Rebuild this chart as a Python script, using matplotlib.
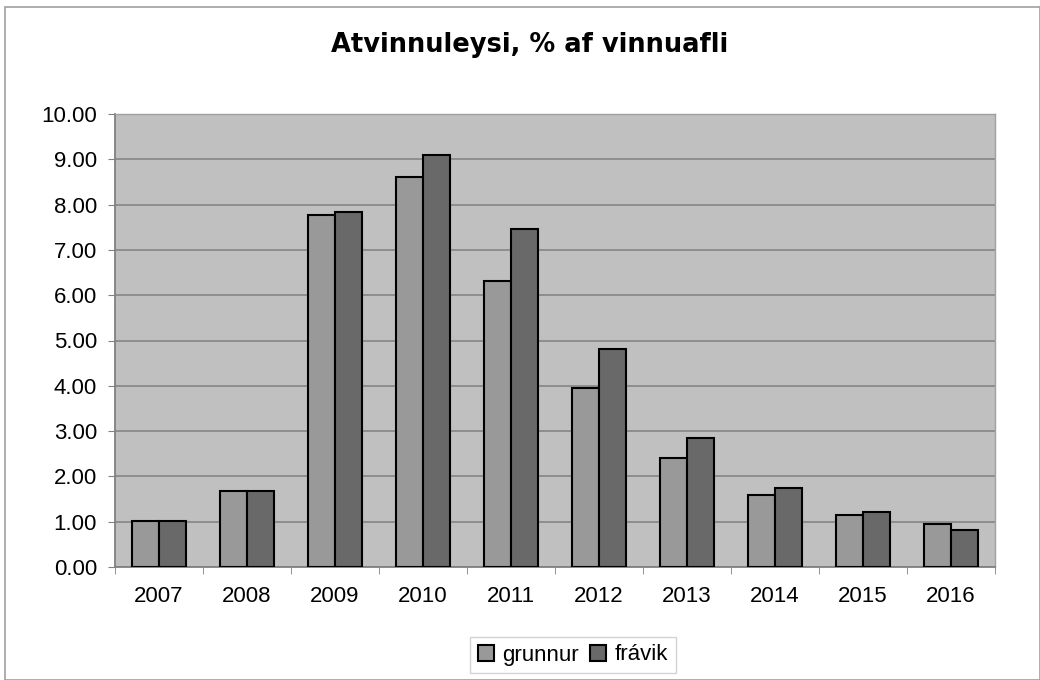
import matplotlib
matplotlib.use("Agg")
import matplotlib.pyplot as plt
import numpy as np
from matplotlib.patches import Rectangle

# data
years = ["2007", "2008", "2009", "2010", "2011", "2012", "2013", "2014", "2015", "2016"]
grunnur = [1.01, 1.67, 7.78, 8.60, 6.31, 3.96, 2.41, 1.59, 1.14, 0.94]
fravik = [1.01, 1.67, 7.83, 9.09, 7.47, 4.82, 2.85, 1.75, 1.22, 0.81]

plt.rcParams['font.family'] = ['Liberation Sans', 'DejaVu Sans']

fig = plt.figure(figsize=(10.4, 6.8), dpi=100)
ax = fig.add_axes([115 / 1040, 1 - 567 / 680, 880 / 1040, 453 / 680])

# chart border
fig.patches.append(Rectangle((5 / 1040, 0), 1 - 5 / 1040, 1 - 7 / 680, transform=fig.transFigure,
                             fill=False, edgecolor='#a0a0a0', linewidth=1.2))

x = np.arange(len(years))
w = 0.31
ax.bar(x - w / 2, grunnur, w, color='#999999', edgecolor='black', linewidth=1.5, label='grunnur', zorder=3)
ax.bar(x + w / 2, fravik, w, color='#696969', edgecolor='black', linewidth=1.5, label='frávik', zorder=3)

ax.set_facecolor('#c0c0c0')
ax.set_xlim(-0.5, len(years) - 0.5)
ax.set_ylim(0, 10)
ax.set_yticks(np.arange(0, 10.01, 1))
ax.set_yticklabels([f"{v:.2f}" for v in np.arange(0, 10.01, 1)], fontsize=16)
ax.yaxis.grid(True, color='#8a8a8a', linewidth=1.3, zorder=0)
ax.set_axisbelow(True)

ax.set_xticks(x)
ax.set_xticklabels(years, fontsize=16)
ax.set_xticks(np.arange(-0.5, len(years), 1), minor=True)
ax.tick_params(axis='x', which='major', length=0, pad=14)
ax.tick_params(axis='x', which='minor', length=5, color='#808080')
ax.tick_params(axis='y', length=5, color='#808080', pad=8)

for s in ['left', 'bottom']:
    ax.spines[s].set_color('#808080')
    ax.spines[s].set_linewidth(1.3)
for s in ['top', 'right']:
    ax.spines[s].set_color('#a0a0a0')
    ax.spines[s].set_linewidth(1.0)

fig.text(530 / 1040, 1 - 45 / 680, "Atvinnuleysi, % af vinnuafli", ha='center', va='center',
         fontsize=18.5, fontweight='bold', family='DejaVu Sans')

fig.legend(loc='center', bbox_to_anchor=(573 / 1040, 1 - 655 / 680), ncol=2, fontsize=16,
           frameon=True, fancybox=False, edgecolor='#c8c8c8', handlelength=0.7, handleheight=0.7,
           handletextpad=0.4, columnspacing=0.5, borderpad=0.35)

fig.savefig("out.png", dpi=100)
